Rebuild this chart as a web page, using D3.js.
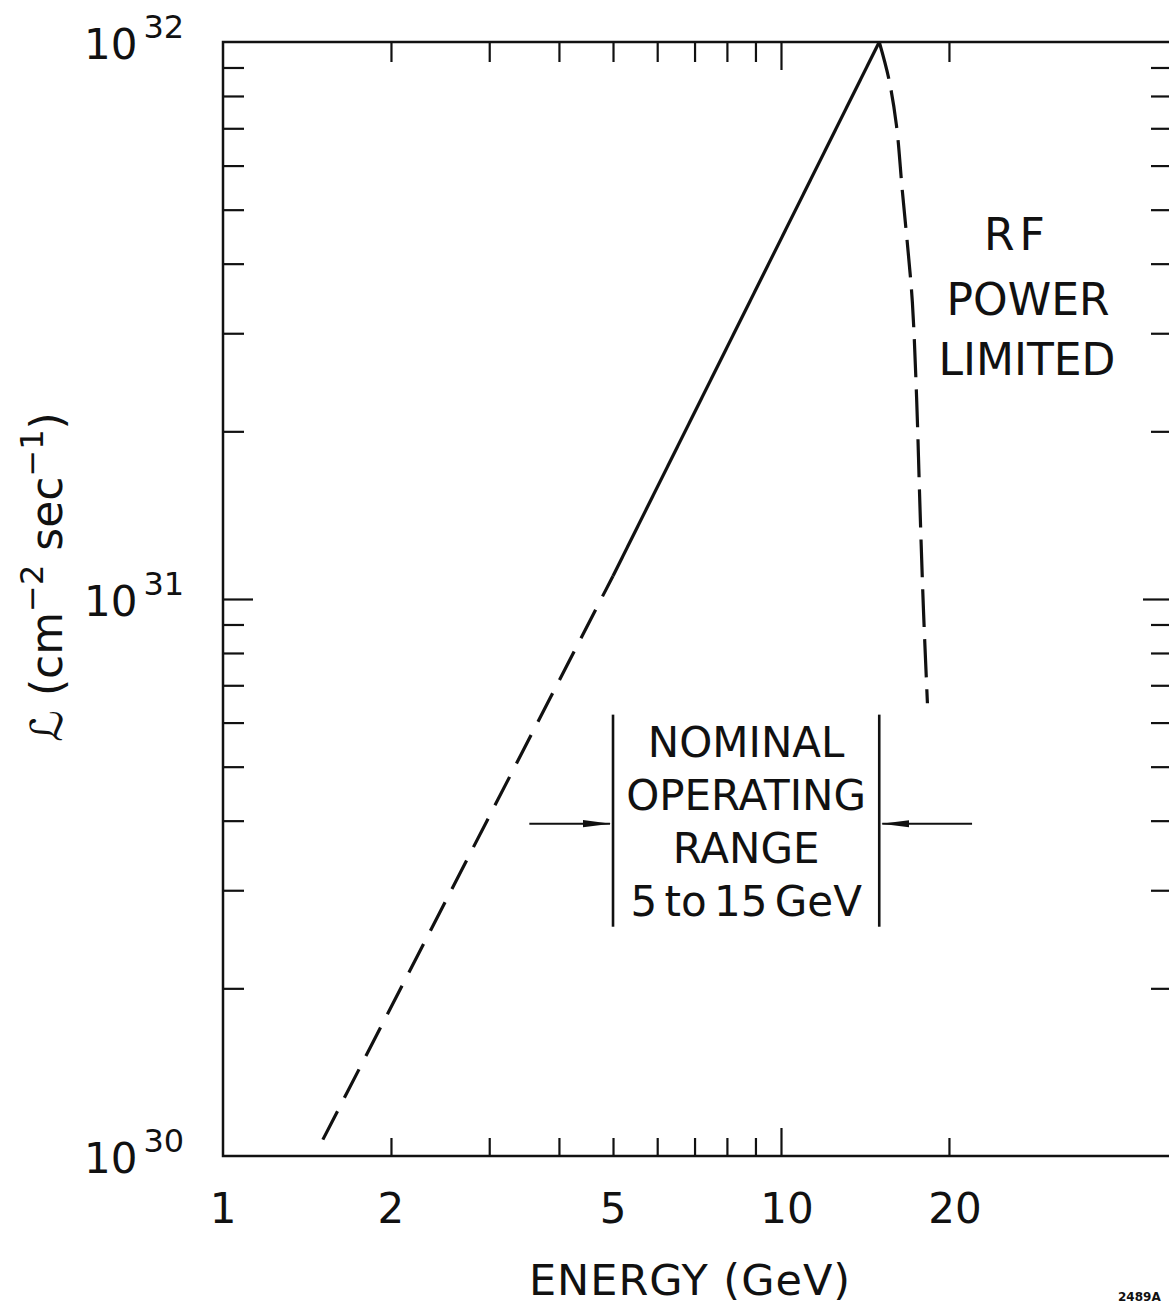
<!DOCTYPE html>
<html>
  <head>
    <meta charset="utf-8">
    <title>Luminosity vs energy</title>
    <script src="https://cdn.jsdelivr.net/npm/d3@7"></script>
    <style>
      body { margin: 0; background: #fff; }
      svg { display: block; }
      text { font-family: "DejaVu Sans", "Liberation Sans", sans-serif; fill: #111; }
      .tick line { stroke: #111; stroke-width: 2.2; }
      .curve { fill: none; stroke: #111; stroke-width: 3.2; }
    </style>
  </head>
  <body>
    <svg width="1169" height="1305"></svg>
    <script>
      // tick values
      var energyMinor = [2, 3, 4, 5, 6, 7, 8, 9, 20];
      var energyMajor = [10];
      var energyLabels = [1, 2, 5, 10, 20];
      var lumMinor = [2e30, 3e30, 4e30, 5e30, 6e30, 7e30, 8e30, 9e30,
                      2e31, 3e31, 4e31, 5e31, 6e31, 7e31, 8e31, 9e31];
      var lumMajor = [1e31];
      var lumExponents = [30, 31, 32];

      // luminosity curve (GeV, cm^-2 s^-1)
      var risingDashed = [[1.51, 1.07e30], [5, 1.1e31]];
      var risingSolid = [[5, 1.1e31], [15, 1e32]];
      var rfLimit = [[15, 1e32], [15.6, 8.6e31], [16.1, 7.1e31], [16.5, 5.4e31],
                     [16.9, 4.2e31], [17.2, 3.4e31], [17.5, 2.3e31], [17.75, 1.45e31],
                     [18.0, 9.6e30], [18.3, 6.5e30]];

      // nominal operating range bracket
      var rangeEnergy = [5, 15];
      var rangeLum = [2.58e30, 6.2e30];
      var arrowLum = 3.95e30;
      var arrowFrom = [3.54, 22];

      var svg = d3.select("svg");

      var x = d3.scaleLog().domain([1, 50]).range([223, 1171]);
      var y = d3.scaleLog().domain([1e30, 1e32]).range([1156, 42]);

      var line = d3.line()
        .x(function (d) { return x(d[0]); })
        .y(function (d) { return y(d[1]); });

      // frame
      svg.append("rect")
        .attr("x", x(1)).attr("y", y(1e32))
        .attr("width", x(50) - x(1)).attr("height", y(1e30) - y(1e32))
        .attr("fill", "none").attr("stroke", "#111").attr("stroke-width", 2.5);

      // inward ticks on all four sides
      function ticks(axis, values, size, transform) {
        svg.append("g")
          .attr("transform", transform)
          .call(axis.tickValues(values).tickSize(size).tickSizeOuter(0).tickFormat(""))
          .call(function (g) { g.select(".domain").remove(); });
      }
      ticks(d3.axisTop(x), energyMinor, 18, "translate(0," + y(1e30) + ")");
      ticks(d3.axisTop(x), energyMajor, 28, "translate(0," + y(1e30) + ")");
      ticks(d3.axisBottom(x), energyMinor, 20, "translate(0," + y(1e32) + ")");
      ticks(d3.axisBottom(x), energyMajor, 28, "translate(0," + y(1e32) + ")");
      ticks(d3.axisRight(y), lumMinor, 21, "translate(" + x(1) + ",0)");
      ticks(d3.axisRight(y), lumMajor, 30, "translate(" + x(1) + ",0)");
      ticks(d3.axisLeft(y), lumMinor, 20, "translate(" + x(50) + ",0)");
      ticks(d3.axisLeft(y), lumMajor, 28, "translate(" + x(50) + ",0)");

      // x labels
      svg.selectAll(".xlab")
        .data(energyLabels)
        .enter().append("text")
        .attr("class", "xlab")
        .attr("x", function (d) { return x(d) + (d >= 10 ? 6 : 0); })
        .attr("y", 1223)
        .attr("text-anchor", "middle")
        .attr("font-size", 42)
        .text(function (d) { return d; });

      // y labels 10^n
      var ylab = svg.selectAll(".ylab")
        .data(lumExponents)
        .enter().append("text")
        .attr("class", "ylab")
        .attr("x", 84)
        .attr("y", function (d) { return y(Math.pow(10, d)) + 17; })
        .attr("font-size", 42);
      ylab.append("tspan").text("10");
      ylab.append("tspan").attr("dx", 6).attr("dy", -21).attr("font-size", 32)
        .text(function (d) { return d; });

      // axis titles
      svg.append("text")
        .attr("x", 690).attr("y", 1295)
        .attr("text-anchor", "middle")
        .attr("font-size", 43)
        .attr("letter-spacing", 1)
        .text("ENERGY (GeV)");

      var yt = svg.append("text")
        .attr("transform", "translate(62,577) rotate(-90)")
        .attr("text-anchor", "middle")
        .attr("font-size", 44);
      yt.append("tspan").text("ℒ (cm");
      yt.append("tspan").attr("dy", -19).attr("font-size", 32).text("−2");
      yt.append("tspan").attr("dy", 19).text(" sec");
      yt.append("tspan").attr("dy", -19).attr("font-size", 32).text("−1");
      yt.append("tspan").attr("dy", 19).text(")");

      // curves
      svg.append("path").datum(risingDashed).attr("class", "curve")
        .attr("stroke-dasharray", "32,15").attr("d", line);
      svg.append("path").datum(risingSolid).attr("class", "curve")
        .attr("d", line);
      svg.append("path").datum(rfLimit).attr("class", "curve")
        .attr("stroke-dasharray", "38,12")
        .attr("d", line.curve(d3.curveCatmullRom));
      line.curve(d3.curveLinear);

      // operating range bracket and arrows
      svg.selectAll(".bar")
        .data(rangeEnergy)
        .enter().append("line")
        .attr("class", "bar")
        .attr("x1", function (d) { return x(d); })
        .attr("x2", function (d) { return x(d); })
        .attr("y1", y(rangeLum[1])).attr("y2", y(rangeLum[0]))
        .attr("stroke", "#111").attr("stroke-width", 2.6);

      svg.append("defs").append("marker")
        .attr("id", "head")
        .attr("markerUnits", "userSpaceOnUse")
        .attr("viewBox", "0 -5 28 10")
        .attr("refX", 27).attr("refY", 0)
        .attr("markerWidth", 28).attr("markerHeight", 10)
        .attr("orient", "auto")
        .append("path").attr("d", "M0,-3.6L28,0L0,3.6Z").attr("fill", "#111");

      svg.selectAll(".arrow")
        .data([0, 1])
        .enter().append("line")
        .attr("class", "arrow")
        .attr("x1", function (i) { return x(arrowFrom[i]); })
        .attr("x2", function (i) { return x(rangeEnergy[i]) + (i ? 3 : -3); })
        .attr("y1", y(arrowLum)).attr("y2", y(arrowLum))
        .attr("stroke", "#111").attr("stroke-width", 2)
        .attr("marker-end", "url(#head)");

      var nominal = ["NOMINAL", "OPERATING", "RANGE", "5 to 15 GeV"];
      svg.selectAll(".nom")
        .data(nominal)
        .enter().append("text")
        .attr("class", "nom")
        .attr("x", (x(rangeEnergy[0]) + x(rangeEnergy[1])) / 2)
        .attr("y", function (d, i) { return 757 + i * 53; })
        .attr("text-anchor", "middle")
        .attr("font-size", 42)
        .attr("word-spacing", function (d, i) { return i === 3 ? -6 : 0; })
        .text(function (d) { return d; });

      // RF note
      svg.append("text").attr("x", 1017).attr("y", 250)
        .attr("text-anchor", "middle").attr("font-size", 44)
        .attr("letter-spacing", 5).text("RF");
      svg.append("text").attr("x", 1028).attr("y", 315)
        .attr("text-anchor", "middle").attr("font-size", 44).text("POWER");
      svg.append("text").attr("x", 1027).attr("y", 375)
        .attr("text-anchor", "middle").attr("font-size", 44).text("LIMITED");

      // figure number
      svg.append("text").attr("x", 1118).attr("y", 1301)
        .attr("font-size", 12).attr("font-weight", "bold").text("2489A");
    </script>
  </body>
</html>
